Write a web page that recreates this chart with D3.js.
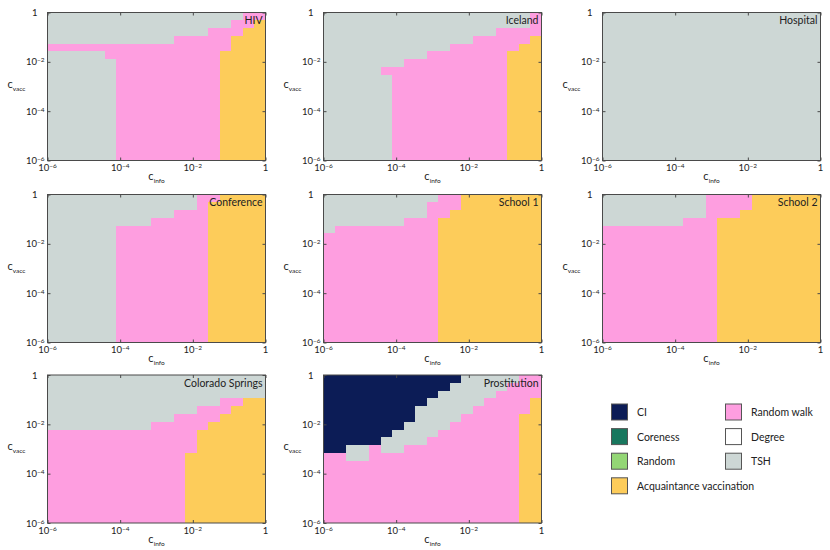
<!DOCTYPE html>
<html>
<head>
<meta charset="utf-8">
<script src="https://cdn.jsdelivr.net/npm/d3@7"></script>
<style>
  body { margin: 0; background: #fff; }
  svg { display: block; font-family: Lato, "Open Sans", sans-serif; }
</style>
</head>
<body>
<div id="chart"></div>
<script>
// panels, in reading order
const panelNames = ["HIV", "Iceland", "Hospital", "Conference", "School 1", "School 2", "Colorado Springs", "Prostitution"];

// strategies: code used in the grids, legend name, colour
const strategyCodes = ["C", "K", "N", "A", "R", "D", "T"];
const strategyNames = ["CI", "Coreness", "Random", "Acquaintance vaccination", "Random walk", "Degree", "TSH"];
const strategyColors = ["#0c1c56", "#18775e", "#93d675", "#fdcc5a", "#fe9ee0", "#ffffff", "#cdd7d5"];

// tick exponents (10^e) on both axes
const tickExps = [-6, -4, -2, 0];

// best strategy on a 19 x 19 grid, rows from c_vacc = 1 (top) down to 1e-6,
// each row written as runs "<code><count>" from c_info = 1e-6 to 1
const hivGrid = [
  "T17 R2", "T16 R2 A1", "T14 R3 A2", "T11 R5 A3", "R16 A3", "T5 R10 A4",
  "T6 R9 A4", "T6 R9 A4", "T6 R9 A4", "T6 R9 A4", "T6 R9 A4", "T6 R9 A4", "T6 R9 A4",
  "T6 R9 A4", "T6 R9 A4", "T6 R9 A4", "T6 R9 A4", "T6 R9 A4", "T6 R9 A4"
];
const icelandGrid = [
  "T18 R1", "T18 R1", "T15 R4", "T13 R5 A1", "T11 R6 A2", "T9 R7 A3", "T7 R9 A3", "T5 R11 A3",
  "T6 R10 A3", "T6 R10 A3", "T6 R10 A3", "T6 R10 A3", "T6 R10 A3", "T6 R10 A3",
  "T6 R10 A3", "T6 R10 A3", "T6 R10 A3", "T6 R10 A3", "T6 R10 A3"
];
const hospitalGrid = [
  "T19", "T19", "T19", "T19", "T19", "T19", "T19", "T19", "T19", "T19",
  "T19", "T19", "T19", "T19", "T19", "T19", "T19", "T19", "T19"
];
const conferenceGrid = [
  "T13 R2 A4", "T13 R1 A5", "T11 R3 A5", "T9 R5 A5",
  "T6 R8 A5", "T6 R8 A5", "T6 R8 A5", "T6 R8 A5", "T6 R8 A5", "T6 R8 A5", "T6 R8 A5", "T6 R8 A5",
  "T6 R8 A5", "T6 R8 A5", "T6 R8 A5", "T6 R8 A5", "T6 R8 A5", "T6 R8 A5", "T6 R8 A5"
];
const school1Grid = [
  "T10 R2 A7", "T9 R3 A7", "T9 R2 A8", "T7 R3 A9", "T1 R9 A9",
  "R10 A9", "R10 A9", "R10 A9", "R10 A9", "R10 A9", "R10 A9", "R10 A9",
  "R10 A9", "R10 A9", "R10 A9", "R10 A9", "R10 A9", "R10 A9", "R10 A9"
];
const school2Grid = [
  "T9 R4 A6", "T9 R4 A6", "T9 R3 A7", "T7 R3 A9",
  "R10 A9", "R10 A9", "R10 A9", "R10 A9", "R10 A9", "R10 A9", "R10 A9", "R10 A9",
  "R10 A9", "R10 A9", "R10 A9", "R10 A9", "R10 A9", "R10 A9", "R10 A9"
];
const coloradoGrid = [
  "T19", "T19", "T19", "T15 R2 A2", "T13 R3 A3", "T11 R4 A4", "T9 R5 A5",
  "R13 A6", "R13 A6", "R13 A6",
  "R12 A7", "R12 A7", "R12 A7", "R12 A7", "R12 A7", "R12 A7", "R12 A7", "R12 A7", "R12 A7"
];
const prostitutionGrid = [
  "C12 T5 R2", "C11 T5 R3", "C10 T5 R4", "C9 T5 R4 A1", "C8 T5 R5 A1", "C8 T4 R5 A2",
  "C7 T4 R6 A2", "C6 T4 R7 A2", "C5 T4 R8 A2", "C2 T2 R1 T2 R10 A2", "R2 T2 R13 A2",
  "R17 A2", "R17 A2", "R17 A2", "R17 A2", "R17 A2", "R17 A2", "R17 A2", "R17 A2"
];
const grids = [hivGrid, icelandGrid, hospitalGrid, conferenceGrid, school1Grid, school2Grid, coloradoGrid, prostitutionGrid];

const svg = d3.select("#chart").append("svg")
  .attr("width", 830)
  .attr("height", 550);

const colX = [47.5, 323.5, 602.5];
const rowY = [12.5, 194.5, 375];
const pw = 218, ph = 148;
const nCells = hivGrid.length;
const edges = d3.range(nCells + 1).map(k => Math.pow(10, -6 + 6 * k / nCells));

const x = d3.scaleLog().domain([1e-6, 1]).range([0, pw]);
const y = d3.scaleLog().domain([1e-6, 1]).range([ph, 0]);
const color = d3.scaleOrdinal().domain(strategyCodes).range(strategyColors);
const tickVals = tickExps.map(e => Math.pow(10, e));
const ink = "#222";
const frame = "#4a4a4a";

function parseRow(str, r) {
  let col = 0;
  return str.split(" ").map(tok => {
    const n = +tok.slice(1);
    const run = { code: tok[0], c0: col, c1: col + n, r: r };
    col += n;
    return run;
  });
}

function powLabel(sel, e) {
  if (e === 0) { sel.text("1"); return; }
  sel.append("tspan").text("10");
  sel.append("tspan").attr("dy", "-0.45em").attr("font-size", "6.5px").text("\u2212" + (-e));
}

grids.forEach((grid, i) => {
  const g = svg.append("g")
    .attr("transform", `translate(${colX[i % 3]},${rowY[Math.floor(i / 3)]})`);

  const runs = grid.flatMap((row, r) => parseRow(row, r));
  g.selectAll("rect.cell")
    .data(runs)
    .join("rect")
    .attr("class", "cell")
    .attr("x", d => x(edges[d.c0]))
    .attr("width", d => x(edges[d.c1]) - x(edges[d.c0]))
    .attr("y", d => y(edges[nCells - d.r]))
    .attr("height", d => y(edges[nCells - d.r - 1]) - y(edges[nCells - d.r]))
    .attr("fill", d => color(d.code))
    .attr("shape-rendering", "crispEdges");

  // inward ticks on four sides
  const axes = [
    [d3.axisBottom(x), `translate(0,${ph})`],
    [d3.axisTop(x), "translate(0,0)"],
    [d3.axisLeft(y), "translate(0,0)"],
    [d3.axisRight(y), `translate(${pw},0)`]
  ];
  axes.forEach(([ax, tr]) => {
    const a = g.append("g").attr("transform", tr)
      .call(ax.tickValues(tickVals).tickSizeInner(-3).tickSizeOuter(0).tickFormat(""));
    a.select(".domain").remove();
    a.selectAll(".tick line").attr("stroke", frame);
  });

  g.append("rect")
    .attr("width", pw).attr("height", ph)
    .attr("fill", "none").attr("stroke", frame).attr("stroke-width", 1);

  // tick labels
  g.selectAll("text.xl")
    .data(tickExps)
    .join("text")
    .attr("class", "xl")
    .attr("x", e => x(Math.pow(10, e)))
    .attr("y", ph + 10.5)
    .attr("text-anchor", "middle")
    .attr("font-size", "9.5px")
    .attr("fill", ink)
    .each(function(e) { powLabel(d3.select(this), e); });

  g.selectAll("text.yl")
    .data(tickExps)
    .join("text")
    .attr("class", "yl")
    .attr("x", e => e === 0 ? -10 : -3)
    .attr("y", e => y(Math.pow(10, e)) + 3.5)
    .attr("text-anchor", "end")
    .attr("font-size", "9.5px")
    .attr("fill", ink)
    .each(function(e) { powLabel(d3.select(this), e); });

  // axis titles
  const xt = g.append("text")
    .attr("x", pw / 2).attr("y", ph + 19.5)
    .attr("text-anchor", "middle")
    .attr("font-size", "11px")
    .attr("fill", ink);
  xt.append("tspan").text("c");
  xt.append("tspan").attr("dy", "3").attr("font-size", "6.5px").text("info");

  const yt = g.append("text")
    .attr("x", -40).attr("y", ph / 2 + 1)
    .attr("font-size", "11px")
    .attr("fill", ink);
  yt.append("tspan").text("c");
  yt.append("tspan").attr("dy", "3").attr("font-size", "6.5px").text("vacc");

  // panel name
  g.append("text")
    .attr("x", pw - 3).attr("y", 11.5)
    .attr("text-anchor", "end")
    .attr("font-size", "10.5px")
    .attr("fill", ink)
    .text(panelNames[i]);
});

// legend
const legendCols = [[0, 1, 2, 3], [4, 5, 6]];
const legendX = [611, 725];
const legendTop = 403.5, legendStep = 24.6, box = 17;
legendCols.forEach((idxs, c) => {
  const lg = svg.append("g").attr("transform", `translate(${legendX[c]},${legendTop})`);
  const item = lg.selectAll("g")
    .data(idxs)
    .join("g")
    .attr("transform", (d, k) => `translate(0,${k * legendStep})`);
  item.append("rect")
    .attr("x", 0.5).attr("y", 0.5)
    .attr("width", box - 1).attr("height", box - 1)
    .attr("fill", d => strategyColors[d])
    .attr("stroke", "#555").attr("stroke-width", 1);
  item.append("text")
    .attr("x", 26).attr("y", box / 2 + 4)
    .attr("font-size", "10.5px")
    .attr("fill", ink)
    .text(d => strategyNames[d]);
});
</script>
</body>
</html>
